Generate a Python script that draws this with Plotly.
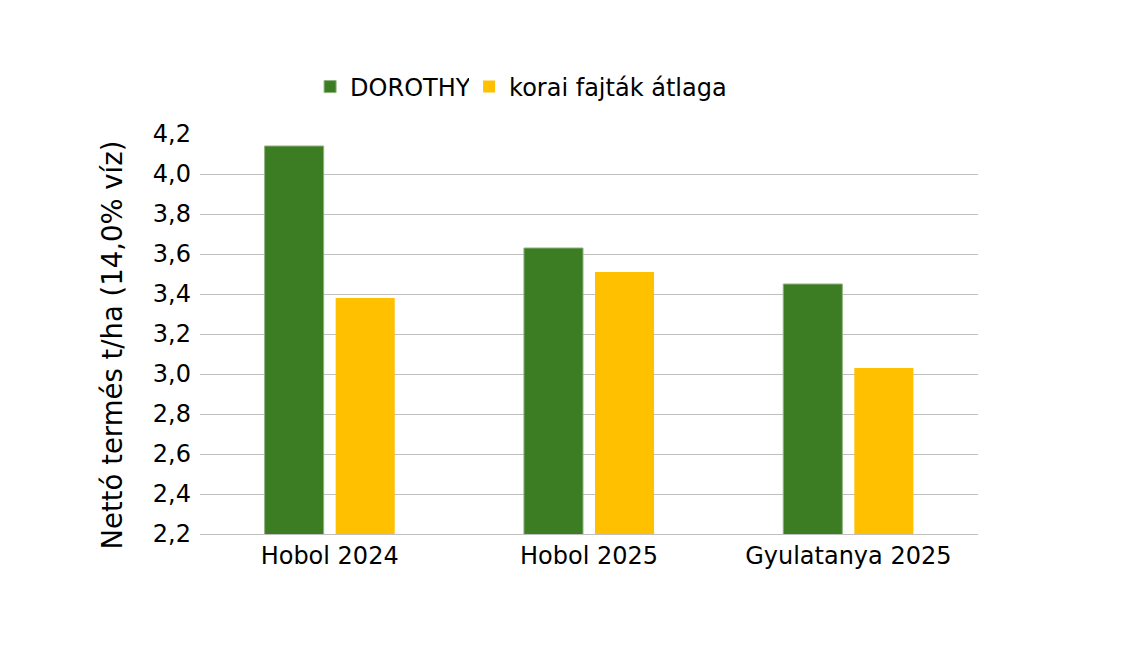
import plotly.graph_objects as go

# helyszínek és terméseredmények (t/ha)
helyszinek = ["Hobol 2024", "Hobol 2025", "Gyulatanya 2025"]
dorothy = [4.14, 3.63, 3.45]
korai_atlag = [3.38, 3.51, 3.03]
y_cim = "Nettó termés t/ha (14,0% víz)"

fig = go.Figure(data=[
    go.Bar(
        x=helyszinek,
        y=dorothy,
        name="DOROTHY",
        marker_color="#3c7d23",
        marker_line=dict(color="#8fb07f", width=1),
        legend="legend",
    ),
    go.Bar(
        x=helyszinek,
        y=korai_atlag,
        name="korai fajták átlaga",
        marker_color="#ffc000",
        marker_line_width=0,
        legend="legend2",
    ),
])

# két külön jelmagyarázat, hogy a távolság a referenciához igazodjon
jelm = dict(
    orientation="h",
    y=1.1175,
    xanchor="left",
    yanchor="middle",
    font=dict(size=24),
    itemwidth=30,
)

# a html oldal 8px-es margója miatt minden 8px-el eltolva
fig.update_layout(
    width=1132,
    height=662,
    margin=dict(l=192, r=162, t=126, b=136),
    paper_bgcolor="white",
    plot_bgcolor="white",
    font=dict(family="DejaVu Sans", size=24, color="black"),
    separators=", ",
    barmode="group",
    bargap=0.452,
    bargroupgap=0.169,
    showlegend=True,
    legend=dict(jelm, x=0.1415),
    legend2=dict(jelm, x=0.3459),
)

# tengelycím annotációként, hogy a függőleges helyzete állítható legyen
fig.add_annotation(
    text=y_cim,
    textangle=-90,
    xref="paper", yref="paper",
    x=-0.1125, y=0.4725,
    xanchor="center", yanchor="middle",
    showarrow=False,
    font=dict(size=27.5),
)

fig.update_yaxes(
    range=[2.2, 4.2],
    dtick=0.2,
    tick0=2.2,
    tickformat=".1f",
    showgrid=True,
    gridcolor="#c0c0c0",
    gridwidth=1,
    zeroline=False,
    ticks="",
    ticklabelstandoff=8,
    tickfont=dict(size=24),
)
fig.update_xaxes(
    showline=True,
    linecolor="#c0c0c0",
    linewidth=1,
    ticks="",
    tickfont=dict(size=24),
)

fig.write_html("out.html")
